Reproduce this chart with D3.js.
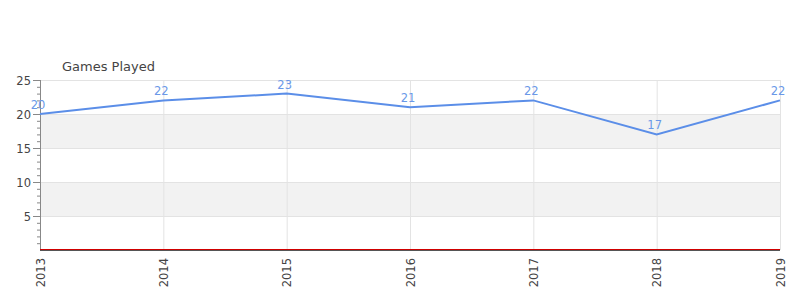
<!DOCTYPE html>
<html><head><meta charset="utf-8">
<script src="https://cdn.jsdelivr.net/npm/d3@7"></script>
<style>body{margin:0;background:#fff;font-family:"DejaVu Sans",sans-serif}</style>
</head><body><svg id="c" width="800" height="300"></svg>
<script>
const years = ["2013","2014","2015","2016","2017","2018","2019"];
const games = [20,22,23,21,22,17,22];
const yTicks = [5,10,15,20,25];
const title = "Games Played";

const svg = d3.select("#c");
const m = {l:40, r:780, t:80, b:250};
const x = d3.scalePoint().domain(years).range([m.l, m.r]);
const y = d3.scaleLinear().domain([0,25]).range([m.b, m.t]);

// bands
const bands = [[15,20],[5,10]];
svg.selectAll("rect.band").data(bands).enter().append("rect")
  .attr("x", m.l).attr("width", m.r-m.l)
  .attr("y", d=>y(d[1])).attr("height", d=>y(d[0])-y(d[1]))
  .attr("fill","#f2f2f2");
// horizontal grid
svg.selectAll("line.hg").data(yTicks).enter().append("line")
  .attr("x1", m.l).attr("x2", m.r).attr("y1", d=>y(d)+0.5).attr("y2", d=>y(d)+0.5)
  .attr("stroke","#e3e3e3");
// vertical grid
svg.selectAll("line.vg").data(years).enter().append("line")
  .attr("x1", d=>x(d)+0.5).attr("x2", d=>x(d)+0.5).attr("y1", m.t).attr("y2", m.b)
  .attr("stroke","#e3e3e3");

// y axis with minor ticks
const minor = d3.range(1,26);
svg.selectAll("line.mt").data(minor).enter().append("line")
  .attr("x1", m.l-3).attr("x2", m.l).attr("y1", d=>y(d)+0.5).attr("y2", d=>y(d)+0.5)
  .attr("stroke","#888");
svg.selectAll("line.Mt").data(yTicks).enter().append("line")
  .attr("x1", m.l-7).attr("x2", m.l).attr("y1", d=>y(d)+0.5).attr("y2", d=>y(d)+0.5)
  .attr("stroke","#888");
svg.append("line").attr("x1", m.l+0.5).attr("x2", m.l+0.5).attr("y1", m.t).attr("y2", m.b)
  .attr("stroke","#888");
svg.selectAll("text.yl").data(yTicks).enter().append("text")
  .attr("x", m.l-9).attr("y", d=>y(d)+4.5).attr("text-anchor","end")
  .attr("font-size","11.5px").attr("fill","#444").text(d=>d);

// x axis
svg.append("line").attr("x1", m.l).attr("x2", m.r).attr("y1", m.b+0.5).attr("y2", m.b+0.5)
  .attr("stroke","#555");
svg.append("line").attr("x1", m.l).attr("x2", m.r).attr("y1", y(0)-0.5).attr("y2", y(0)-0.5)
  .attr("stroke","#d00000");
svg.selectAll("text.xl").data(years).enter().append("text")
  .attr("transform", d=>`translate(${x(d)+4.5},${m.b+8}) rotate(-90)`)
  .attr("text-anchor","end").attr("font-size","11.5px").attr("fill","#444").text(d=>d);

// line
const line = d3.line().x((d,i)=>x(years[i])).y(d=>y(d));
svg.append("path").datum(games).attr("d", line).attr("fill","none")
  .attr("stroke","#5b8ee8").attr("stroke-width",2);
svg.selectAll("text.pl").data(games).enter().append("text")
  .attr("x",(d,i)=>x(years[i])-2).attr("y", d=>y(d)-5)
  .attr("text-anchor","middle").attr("font-size","11.5px").attr("fill","#6a98e8").text(d=>d);

svg.append("text").attr("x",62).attr("y",71).attr("font-size","13px").attr("fill","#444").text(title);
</script></body></html>
